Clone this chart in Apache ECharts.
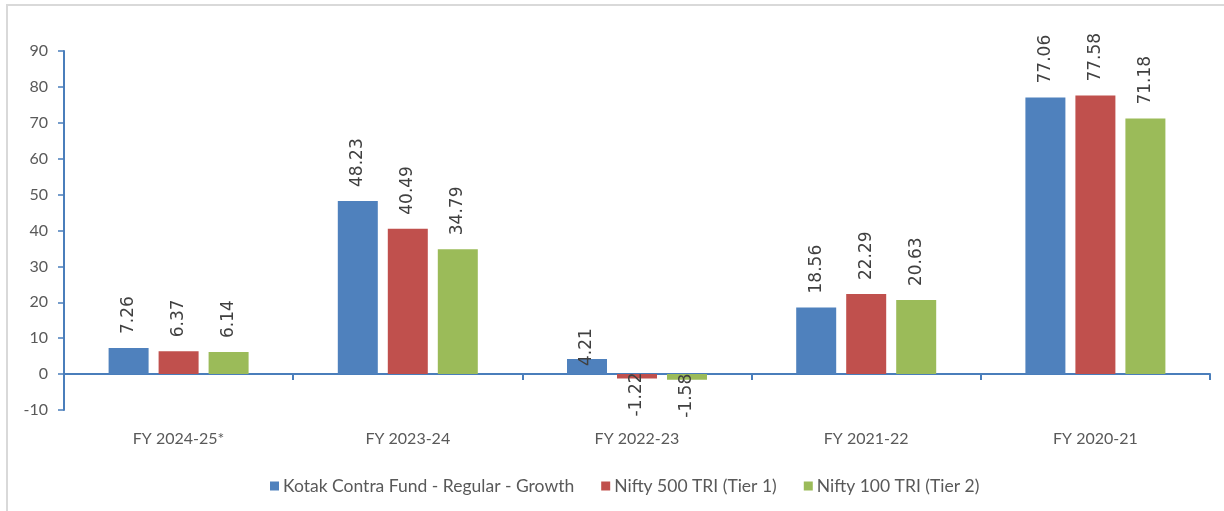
<!DOCTYPE html>
<html>
<head>
<meta charset="utf-8">
<script src="https://cdn.jsdelivr.net/npm/echarts@6/dist/echarts.min.js"></script>
<style>html,body{margin:0;padding:0;background:#fff;}#c{width:1224px;height:511px;}</style>
</head>
<body>
<div id="c"></div>
<script>
const categories = ['FY 2024-25*', 'FY 2023-24', 'FY 2022-23', 'FY 2021-22', 'FY 2020-21'];
const seriesNames = ['Kotak Contra Fund - Regular - Growth', 'Nifty 500 TRI (Tier 1)', 'Nifty 100 TRI (Tier 2)'];
const fundValues = [7.26, 48.23, 4.21, 18.56, 77.06];
const nifty500Values = [6.37, 40.49, -1.22, 22.29, 77.58];
const nifty100Values = [6.14, 34.79, -1.58, 20.63, 71.18];
const yTicks = [-10, 0, 10, 20, 30, 40, 50, 60, 70, 80, 90];

const colors = ['#4F81BD', '#C0504D', '#9BBB59'];
const axisBlue = '#4A7EBB';
const textGray = '#595959';

function dataWithLabels(vals) {
  return vals.map(v => {
    const small = Math.abs(v) < 5;
    return {
      value: v,
      label: v >= 0
        ? { position: 'top', align: 'left', verticalAlign: 'middle', distance: small ? -7 : 14 }
        : { position: 'bottom', align: 'right', verticalAlign: 'middle', distance: -6 }
    };
  });
}

const allValues = [fundValues, nifty500Values, nifty100Values];
const chart = echarts.init(document.getElementById('c'), null, { renderer: 'canvas' });
chart.setOption({
  animation: false,
  backgroundColor: '#ffffff',
  textStyle: { fontFamily: 'Lato' },
  grid: { left: 64, right: 14, top: 51, bottom: 101, containLabel: false },
  legend: {
    data: seriesNames,
    left: 265,
    top: 472,
    icon: 'rect',
    itemWidth: 9,
    itemHeight: 9,
    itemGap: 27,
    textStyle: { fontFamily: 'Lato', fontSize: 17.5, color: textGray, padding: [0, 0, 0, -1] }
  },
  xAxis: [
    {
      type: 'category',
      data: categories,
      position: 'top',
      axisLine: { onZero: true, lineStyle: { color: axisBlue, width: 2 } },
      axisTick: { show: true, inside: true, length: 6, alignWithLabel: false, lineStyle: { color: axisBlue, width: 2 } },
      axisLabel: { show: false },
      splitLine: { show: false }
    },
    {
      type: 'category',
      data: categories,
      position: 'bottom',
      axisLine: { show: false, onZero: false },
      axisTick: { show: false },
      axisLabel: { show: true, margin: 21, fontFamily: 'Lato', fontSize: 16, color: textGray },
      splitLine: { show: false }
    }
  ],
  yAxis: {
    type: 'value',
    min: yTicks[0],
    max: yTicks[yTicks.length - 1],
    interval: 10,
    axisLine: { show: true, lineStyle: { color: axisBlue, width: 2 } },
    axisTick: { show: true, length: 6, lineStyle: { color: axisBlue, width: 1.5 } },
    axisLabel: { margin: 16, fontFamily: 'Lato', fontSize: 16, color: textGray },
    splitLine: { show: false }
  },
  graphic: [
    { type: 'line', shape: { x1: 7, y1: 5, x2: 7, y2: 511 }, style: { stroke: '#d9d9d9', lineWidth: 2 }, silent: true },
    { type: 'line', shape: { x1: 6, y1: 5, x2: 1224, y2: 5 }, style: { stroke: '#d9d9d9', lineWidth: 2 }, silent: true }
  ],
  series: seriesNames.map((name, i) => ({
    name: name,
    type: 'bar',
    xAxisIndex: 0,
    data: dataWithLabels(allValues[i]),
    barWidth: 40,
    barGap: '25%',
    itemStyle: { color: colors[i] },
    label: {
      show: true,
      rotate: 90,
      fontFamily: 'DejaVu Sans',
      fontSize: 17,
      color: '#404040',
      formatter: p => p.value.toFixed(2)
    },
    emphasis: { disabled: true }
  }))
});
</script>
</body>
</html>
